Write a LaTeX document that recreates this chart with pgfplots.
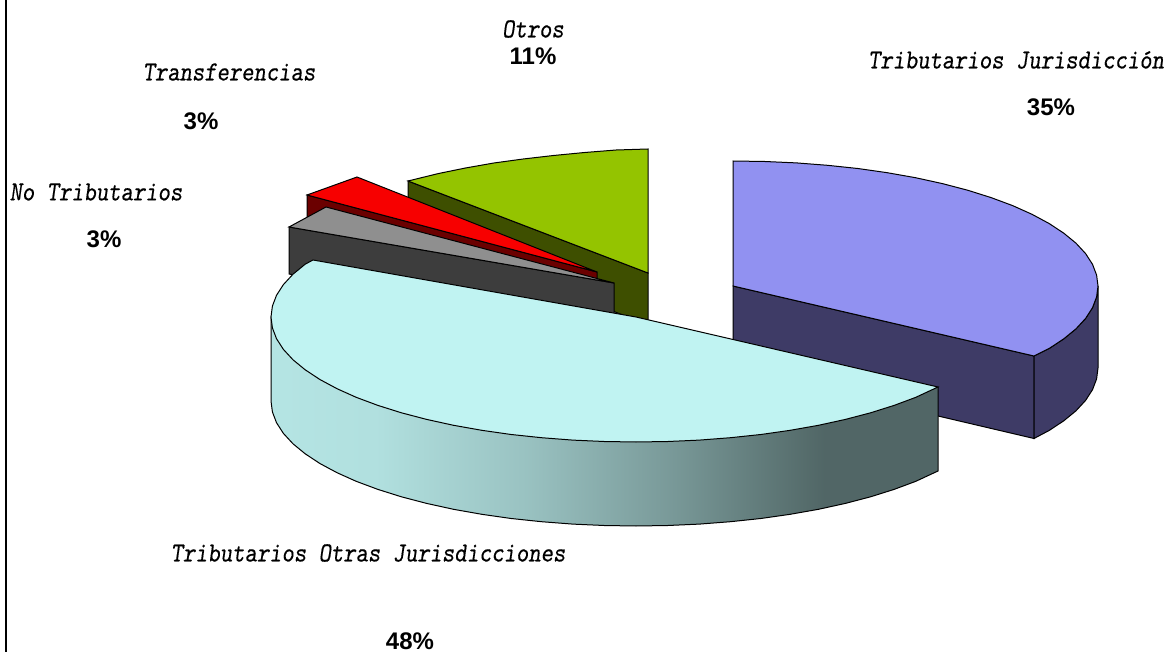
\documentclass[border=0pt]{standalone}
\usepackage{fontspec}
\usepackage{graphicx}
\setmainfont{Liberation Sans}
\newfontfamily\labfont{Latin Modern Mono Slanted}[FakeBold=0.35]
\usepackage{pgfplots}
\pgfplotsset{compat=1.18}
\definecolor{bluetop}{HTML}{9191F1}
\definecolor{bluewall}{HTML}{3E3B66}
\definecolor{cyantop}{HTML}{C0F3F2}
\definecolor{greentop}{HTML}{94C400}
\definecolor{greenwall}{HTML}{3E4F00}
\definecolor{redtop}{HTML}{F70000}
\definecolor{redwall}{HTML}{6B0000}
\definecolor{graytop}{HTML}{8F8F8F}
\definecolor{graywall}{HTML}{3D3D3D}
\pgfdeclarehorizontalshading{cyanwall}{100bp}{
 color(0bp)=(cyantop!92!black);
 color(25bp)=(cyantop!94!black);
 color(33bp)=(cyantop!92!black);
 color(44bp)=(cyantop!80!black);
 color(55bp)=(cyantop!63!black);
 color(66.5bp)=(cyantop!42!black);
 color(75bp)=(cyantop!42!black);
 color(100bp)=(cyantop!42!black)}
\newcommand{\lab}[1]{\scalebox{1}[1.18]{\labfont\fontsize{23.5pt}{24pt}\selectfont #1}}
\newcommand{\pct}[1]{{\bfseries\fontsize{24pt}{24pt}\selectfont #1}}
\begin{document}
\begin{tikzpicture}
\begin{axis}[
  scale only axis, width=1170pt, height=652pt,
  xmin=0, xmax=1170, ymin=0, ymax=652, y dir=reverse,
  hide axis, no markers, clip=true,
  every axis plot/.append style={line width=1pt, line join=miter},
  every node/.append style={inner sep=0pt, outer sep=0pt},
]
% invisible plot that holds the whole canvas in the bounding box
\addplot[draw=none] coordinates {(0,0) (1170,652)};
% left frame line
\addplot[draw=black, line width=2pt] coordinates {(6,0) (6,652)};
% blue slice (Tributarios Jurisdiccion)
\addplot[fill=bluewall, draw=black] coordinates {(733,286) (1034,356) (1034,438.5) (938,416) (733,369)} --cycle;
\addplot[fill=bluewall, draw=black] coordinates {(1034,356) (1049.1,348.5) (1063.8,338.8) (1076,328.8) (1085.6,318.4) (1092.5,307.7) (1096.6,296.9) (1098,286) (1098,368) (1096.6,378.9) (1092.5,389.7) (1085.6,400.4) (1076,410.8) (1063.8,420.8) (1049.1,430.5) (1034,438.5)} --cycle;
\addplot[fill=bluetop, draw=black] coordinates {(733,161) (764.8,161.5) (796.4,162.9) (827.5,165.3) (857.8,168.5) (887.2,172.7) (915.5,177.7) (942.4,183.6) (967.6,190.2) (991.1,197.6) (1012.6,205.6) (1032,214.3) (1049.1,223.5) (1063.8,233.2) (1076,243.2) (1085.6,253.6) (1092.5,264.3) (1096.6,275.1) (1098,286) (1096.6,296.9) (1092.5,307.7) (1085.6,318.4) (1076,328.8) (1063.8,338.8) (1049.1,348.5) (1034,356) (733,286)} --cycle;
% green slice (Otros)
\addplot[fill=greenwall, draw=black] coordinates {(408,181) (648,273) (648,325) (408,230)} --cycle;
\addplot[fill=greentop, draw=black] coordinates {(648,149) (616.2,150) (584.6,152.5) (553.5,155.5) (523.2,159) (493.8,163) (465.5,168) (438.6,173.5) (408,181) (648,273)} --cycle;
% red slice (Transferencias)
\addplot[fill=redwall, draw=black] coordinates {(307,195) (597,272) (597,318) (307,241)} --cycle;
\addplot[fill=redtop, draw=black] coordinates {(357,177) (307,195) (597,272)} --cycle;
% gray slice (No Tributarios)
\addplot[fill=graywall, draw=black] coordinates {(289,227) (614,283) (614,330) (289,274)} --cycle;
\addplot[fill=graytop, draw=black] coordinates {(326,207) (289,227) (614,283)} --cycle;
% cyan slice (Tributarios Otras Jurisdicciones)
\addplot[draw=black, shade, shading=cyanwall] coordinates {(271,317) (938,387) (938,471) (915.6,481.4) (894.1,489.4) (870.6,496.8) (845.4,503.4) (818.5,509.3) (790.2,514.3) (760.8,518.5) (730.5,521.7) (699.4,524.1) (667.8,525.5) (636,526) (604.2,525.5) (572.6,524.1) (541.5,521.7) (511.2,518.5) (481.8,514.3) (453.5,509.3) (426.6,503.4) (401.4,496.8) (377.9,489.4) (356.4,481.4) (337,472.7) (319.9,463.5) (305.2,453.8) (293,443.8) (283.4,433.4) (276.5,422.7) (272.4,411.9) (271,401)} --cycle;
\addplot[fill=cyantop, draw=black] coordinates {(313,260) (305.2,264.2) (293,274.2) (283.4,284.6) (276.5,295.3) (272.4,306.1) (271,317) (272.4,327.9) (276.5,338.7) (283.4,349.4) (293,359.8) (305.2,369.8) (319.9,379.5) (337,388.7) (356.4,397.4) (377.9,405.4) (401.4,412.8) (426.6,419.4) (453.5,425.3) (481.8,430.3) (511.2,434.5) (541.5,437.7) (572.6,440.1) (604.2,441.5) (636,442) (667.8,441.5) (699.4,440.1) (730.5,437.7) (760.8,434.5) (790.2,430.3) (818.5,425.3) (845.4,419.4) (870.6,412.8) (894.1,405.4) (915.6,397.4) (938,387) (636,317)} --cycle;
% labels
\node at (axis cs:533,29) {\lab{Otros}};
\node at (axis cs:533,56) {\pct{11\%}};
\node at (axis cs:1016,60) {\lab{Tributarios Jurisdicción}};
\node at (axis cs:1051,107) {\pct{35\%}};
\node at (axis cs:229,72) {\lab{Transferencias}};
\node at (axis cs:201,121) {\pct{3\%}};
\node at (axis cs:96,192) {\lab{No Tributarios}};
\node at (axis cs:104,239) {\pct{3\%}};
\node at (axis cs:368,553) {\lab{Tributarios Otras Jurisdicciones}};
\node at (axis cs:410,641) {\pct{48\%}};
\end{axis}
\end{tikzpicture}
\end{document}
